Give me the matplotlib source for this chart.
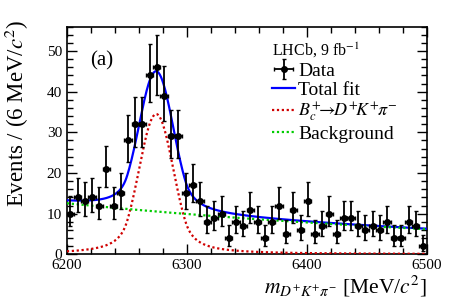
import numpy as np
import matplotlib
matplotlib.use("Agg")
import matplotlib.pyplot as plt
from matplotlib.ticker import MultipleLocator

plt.rcParams['font.family'] = 'serif'
plt.rcParams['font.serif'] = ['Liberation Serif', 'DejaVu Serif']
plt.rcParams['mathtext.fontset'] = 'stix'

# Data: 6 MeV bins from 6200 to 6500
bin_centers = np.arange(6203, 6500, 6)
counts = [10, 14, 13, 14, 12, 21, 12, 15, 28, 32, 32, 44, 46, 39, 29, 29, 15, 17, 13, 8,
          9, 10, 4, 8, 7, 11, 8, 4, 8, 12, 5, 11, 6, 13, 5, 7, 10, 5, 9, 9,
          7, 6, 7, 6, 8, 4, 4, 8, 7, 2]
err_lo = [3.11, 3.70, 3.56, 3.70, 3.42, 4.55, 3.42, 3.83, 5.27, 5.63, 5.63, 6.61, 6.76, 6.22, 5.36,
          5.36, 3.83, 4.08, 3.56, 2.77, 2.94, 3.11, 1.91, 2.77, 2.58, 3.27, 2.77, 1.91, 2.77, 3.42,
          2.16, 3.27, 2.38, 3.56, 2.16, 2.58, 3.11, 2.16, 2.94, 2.94, 2.58, 2.38, 2.58, 2.38, 2.77,
          1.91, 1.91, 2.77, 2.58, 1.29]
err_hi = [4.26, 4.81, 4.68, 4.81, 4.55, 5.62, 4.55, 4.94, 6.33, 6.70, 6.70, 7.68, 7.83, 7.29, 6.43,
          6.43, 4.94, 5.18, 4.68, 3.95, 4.11, 4.26, 3.16, 3.95, 3.77, 4.41, 3.95, 3.16, 3.95, 4.55,
          3.38, 4.41, 3.58, 4.68, 3.38, 3.77, 4.26, 3.38, 4.11, 4.11, 3.77, 3.58, 3.77, 3.58, 3.95,
          3.16, 3.16, 3.95, 3.77, 2.64]

# Fit model parameters (double-sided Crystal Ball signal + exponential background)
sig_peak = 34.5
sig_mean = 6274.5
sig_sigma = 14.3
sig_alpha = 1.7
sig_n = 1.5
bkg_norm = 12.55
bkg_slope = -0.00236


def dscb(x):
    t = np.abs((x - sig_mean) / sig_sigma)
    a = sig_alpha
    core = np.exp(-0.5 * t**2)
    tail = np.exp(-0.5 * a**2) * ((sig_n / a) / (sig_n / a - a + t))**sig_n
    return sig_peak * np.where(t < a, core, tail)


x = np.linspace(6200, 6500, 601)
signal = dscb(x)
background = bkg_norm * np.exp(bkg_slope * (x - 6200))
total = signal + background

fig = plt.figure(figsize=(4.49, 3.06), dpi=100)
ax = fig.add_axes([0.149, 0.169, 0.801, 0.744])

h_data = ax.errorbar(bin_centers, counts, yerr=[err_lo, err_hi], xerr=3, fmt='o', color='black',
                     markersize=4, elinewidth=1.3, capsize=1.5, capthick=1.0, label='Data', zorder=5)
h_tot, = ax.plot(x, total, color='#0000ff', lw=1.6, label='Total fit', zorder=3)
h_sig, = ax.plot(x, signal, color='#d00000', lw=1.6, ls=(0, (1, 1.2)),
                 label=r'$B_c^{+}\!\!\to\!\! D^{+}\!K^{+}\!\pi^{-}$', zorder=4)
h_bkg, = ax.plot(x, background, color='#00cc00', lw=1.6, ls=(0, (1, 1.2)),
                 label='Background', zorder=4)

ax.set_xlim(6200, 6500)
ax.set_ylim(0, 56)
ax.xaxis.set_major_locator(MultipleLocator(100))
ax.xaxis.set_minor_locator(MultipleLocator(20))
ax.yaxis.set_major_locator(MultipleLocator(10))
ax.yaxis.set_minor_locator(MultipleLocator(2))
ax.tick_params(which='both', direction='in', top=True, right=True, labelsize=11)
ax.tick_params(which='major', length=7, width=1.0)
ax.tick_params(which='minor', length=4, width=1.0)
for s in ax.spines.values():
    s.set_linewidth(1.2)

ax.set_ylabel(r'Events / (6 MeV/$c^2$)', fontsize=16.5, loc='top')
ax.yaxis.set_label_coords(-0.10, 1.03)
ax.set_xlabel(r'$m_{D^{+}K^{+}\pi^{-}}$ [MeV/$c^2$]', fontsize=15.5, loc='right', labelpad=1)

ax.text(0.065, 0.83, '(a)', transform=ax.transAxes, fontsize=15)

leg = ax.legend(handles=[h_data, h_tot, h_sig, h_bkg], loc='upper left',
                bbox_to_anchor=(0.57, 0.935), frameon=False, fontsize=14,
                title=r'LHCb, 9 fb$^{-1}$', title_fontsize=11.5, handlelength=1.2,
                handletextpad=0.15, labelspacing=0.08, borderaxespad=0, borderpad=0)
leg._legend_box.align = 'left'
leg.get_texts()[2].set_fontsize(13)

fig.savefig('out.png', dpi=100)
